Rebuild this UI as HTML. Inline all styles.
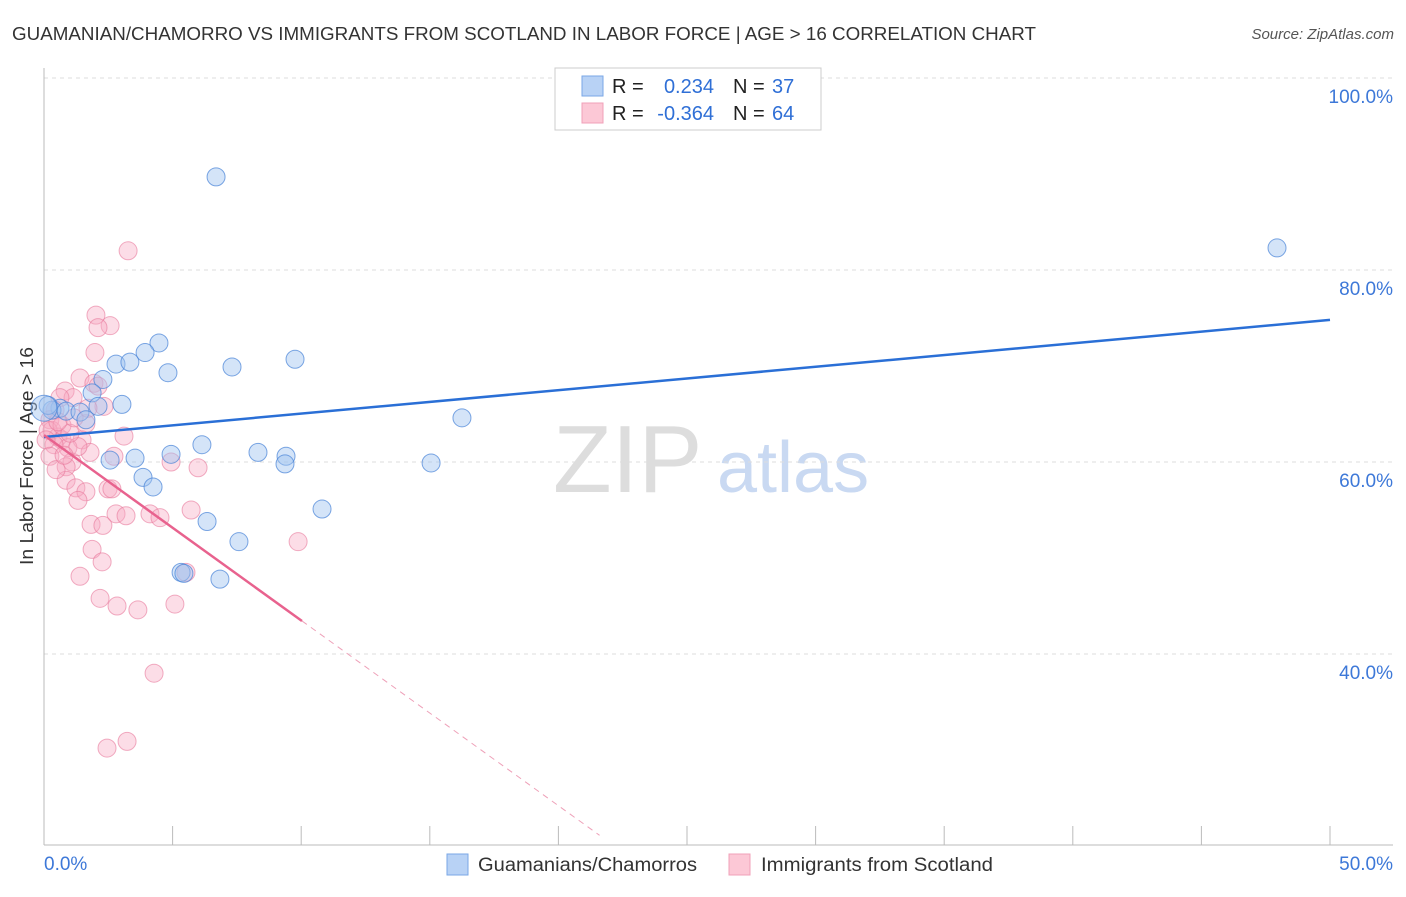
<!DOCTYPE html>
<html><head><meta charset="utf-8"><style>
body{margin:0;background:#fff;font-family:"Liberation Sans",sans-serif;}
svg text{font-family:"Liberation Sans",sans-serif;}
</style></head><body>
<svg id="chart" width="1406" height="892">
<text x="12" y="40" font-size="18.5" fill="#333" textLength="1024" lengthAdjust="spacingAndGlyphs">GUAMANIAN/CHAMORRO VS IMMIGRANTS FROM SCOTLAND IN LABOR FORCE | AGE &gt; 16 CORRELATION CHART</text>
<text x="1394" y="39" font-size="15" fill="#555" font-style="italic" text-anchor="end">Source: ZipAtlas.com</text>
<text x="33" y="456" font-size="18" fill="#333" text-anchor="middle" transform="rotate(-90 33 456)" textLength="218" lengthAdjust="spacingAndGlyphs">In Labor Force | Age &gt; 16</text>
<g><text x="553" y="492" font-size="96" fill="#ddd" font-family="Liberation Serif,serif">ZIP</text><text x="717" y="492" font-size="72" fill="#c9d9f2">atlas</text></g>
<g id="grid"></g><g id="pts"></g><g id="lines"></g>
<g>
<rect x="555" y="68" width="266" height="62" fill="#fff" stroke="#ccc"/>
<rect x="582" y="76" width="21" height="20" fill="#b8d2f5" stroke="#7aa7e6"/>
<rect x="582" y="103" width="21" height="20" fill="#fcc8d6" stroke="#f0a0b8"/>
<text x="612" y="93" font-size="20" fill="#222">R =</text><text x="714" y="93" font-size="20" fill="#2f6fd6" text-anchor="end">0.234</text>
<text x="733" y="93" font-size="20" fill="#222">N =</text><text x="772" y="93" font-size="20" fill="#2f6fd6">37</text>
<text x="612" y="120" font-size="20" fill="#222">R =</text><text x="714" y="120" font-size="20" fill="#2f6fd6" text-anchor="end">-0.364</text>
<text x="733" y="120" font-size="20" fill="#222">N =</text><text x="772" y="120" font-size="20" fill="#2f6fd6">64</text>
</g>
<g>
<rect x="447" y="854" width="21" height="21" fill="#b8d2f5" stroke="#7aa7e6"/>
<text x="478" y="871" font-size="19" fill="#333" textLength="219" lengthAdjust="spacingAndGlyphs">Guamanians/Chamorros</text>
<rect x="729" y="854" width="21" height="21" fill="#fcc8d6" stroke="#f0a0b8"/>
<text x="761" y="871" font-size="19" fill="#333" textLength="232" lengthAdjust="spacingAndGlyphs">Immigrants from Scotland</text>
</g>
</svg>
<script>
const blueX=[6.69,47.94,4.47,3.93,2.80,3.34,4.82,7.31,9.76,2.29,1.87,3.03,2.10,0.62,0.31,0.16,0.86,1.40,1.63,16.25,6.14,4.94,2.57,3.54,8.32,9.41,9.37,15.05,3.85,4.24,10.81,6.34,7.58,5.33,5.44,6.84,0];
const blueY=[89.7,82.3,72.4,71.4,70.2,70.4,69.3,69.9,70.7,68.6,67.2,66.0,65.8,65.6,65.4,65.9,65.3,65.2,64.4,64.6,61.8,60.8,60.2,60.4,61.0,60.6,59.8,59.9,58.4,57.4,55.1,53.8,51.7,48.5,48.4,47.8,65.6];
const pinkX=[3.27,2.02,2.57,2.10,1.98,1.40,0.82,1.94,2.10,2.33,1.13,1.63,0.62,0.43,0.23,0.31,0.54,0.70,1.48,0.93,1.79,0.39,3.11,2.72,1.09,0.86,1.32,4.94,5.99,0.86,1.24,1.63,1.32,2.49,2.64,1.83,2.29,2.80,3.19,4.12,4.51,5.72,9.88,1.87,2.26,1.40,5.52,2.18,2.84,3.65,5.09,4.28,3.23,2.45,0.16,0.08,0.23,0.47,0.70,1.01,1.17,1.71,0.54,0.78];
const pinkY=[82.0,75.3,74.2,74.0,71.4,68.75,67.4,68.2,67.9,65.8,66.7,64.0,66.7,65.4,64.4,63.3,62.6,62.3,62.3,61.5,61.0,61.8,62.7,60.6,60.0,59.5,61.6,60.0,59.4,58.1,57.3,56.9,56.0,57.2,57.2,53.5,53.4,54.6,54.4,54.6,54.2,55.0,51.7,50.9,49.6,48.1,48.5,45.8,45.0,44.6,45.2,38.0,30.9,30.2,63.3,62.3,60.6,59.2,63.8,63.0,64.6,65.6,64.2,60.7];
const xTicks=[0,5,10,15,20,25,30,35,40,45,50];
const yTicks=[40,60,80,100];
const yTickLabels=["40.0%","60.0%","80.0%","100.0%"];
const blueTrend=[62.6,74.8]; // y at x=0 and x=50
const pinkTrend=[62.8,-1.93]; // intercept, slope
const pinkSolidEnd=10.03, pinkDashEnd=21.6;
const NS="http://www.w3.org/2000/svg";
const sx=v=>44+v/50*1286, sy=v=>78+(100-v)*9.6;
function mk(p,t,a){const e=document.createElementNS(NS,t);for(const k in a)e.setAttribute(k,a[k]);p.appendChild(e);return e;}
const grid=document.getElementById('grid');
yTicks.forEach((t,i)=>{
 const l=mk(grid,'line',{x1:44,x2:1393,y1:sy(t),y2:sy(t),stroke:'#ddd','stroke-dasharray':'4,4'});
 
 
 const tx=mk(grid,'text',{x:1393,y:sy(t)+25,'font-size':19,fill:'#3d78d8','text-anchor':'end'});
 tx.textContent=yTickLabels[i];
 
 
});
const ax=mk(grid,'line',{x1:44,x2:44,y1:68,y2:845,stroke:'#bbb'});


const bx=mk(grid,'line',{x1:44,x2:1393,y1:845,y2:845,stroke:'#bbb'});


xTicks.forEach(t=>{
 const l=mk(grid,'line',{x1:sx(t),x2:sx(t),y1:826,y2:845,stroke:'#bbb'});
 
 
});
const xl0=mk(grid,'text',{x:44,y:870,'font-size':19,fill:'#3d78d8'});xl0.textContent=xTicks[0].toFixed(1)+'%';


const xl1=mk(grid,'text',{x:1393,y:870,'font-size':19,fill:'#3d78d8','text-anchor':'end'});xl1.textContent=xTicks[xTicks.length-1].toFixed(1)+'%';


const pts=document.getElementById('pts');
pinkX.forEach((x,i)=>{
 const c=mk(pts,'circle',{cx:sx(x),cy:sy(pinkY[i]),r:9,fill:'rgba(248,170,195,0.4)',stroke:'rgba(232,120,155,0.6)','stroke-width':1});
 
 
});
blueX.forEach((x,i)=>{
 const c=mk(pts,'circle',{cx:sx(x),cy:sy(blueY[i]),r:i==blueX.length-1?13:9,fill:'rgba(160,195,240,0.45)',stroke:'rgba(70,130,215,0.7)','stroke-width':1});
 
 
});
const lines=document.getElementById('lines');
const bl=mk(lines,'line',{x1:sx(0),y1:sy(blueTrend[0]),x2:sx(50),y2:sy(blueTrend[1]),stroke:'#2a6fd6','stroke-width':2.5});


const pf=x=>pinkTrend[0]+pinkTrend[1]*x;
const pl=mk(lines,'line',{x1:sx(0),y1:sy(pf(0)),x2:sx(pinkSolidEnd),y2:sy(pf(pinkSolidEnd)),stroke:'#e8628e','stroke-width':2.5});


const pd=mk(lines,'line',{x1:sx(pinkSolidEnd),y1:sy(pf(pinkSolidEnd)),x2:sx(pinkDashEnd),y2:sy(pf(pinkDashEnd)),stroke:'#eea0b8','stroke-width':1,'stroke-dasharray':'6,5'});


</script>
</body></html>
